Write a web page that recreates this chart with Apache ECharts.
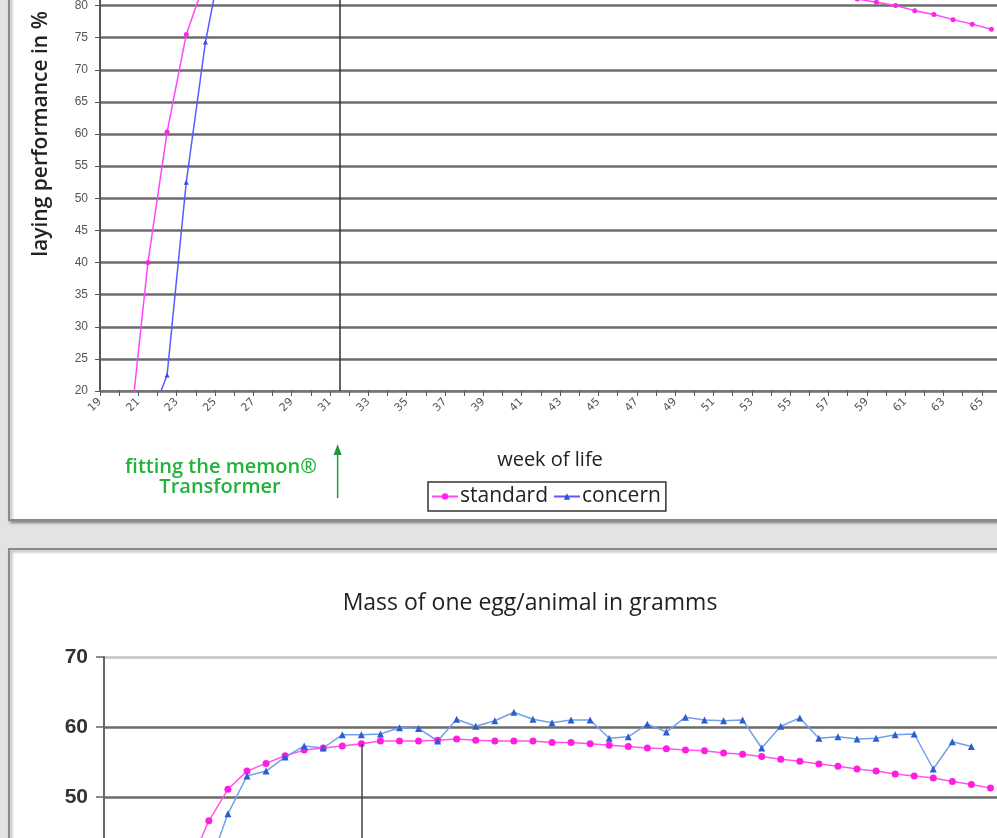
<!DOCTYPE html>
<html>
<head>
<meta charset="utf-8">
<script src="https://cdn.jsdelivr.net/npm/echarts@6/dist/echarts.min.js"></script>
<style>
  html, body { margin: 0; padding: 0; background: #e3e3e3; }
  #chart { width: 997px; height: 838px; }
</style>
</head>
<body>
<div id="chart"></div>
<script>
// week categories (top chart: laying performance)
const weeksTop = ['19','20','21','22','23','24','25','26','27','28','29','30','31','32','33','34','35','36','37','38',
  '39','40','41','42','43','44','45','46','47','48','49','50','51','52','53','54','55','56','57','58',
  '59','60','61','62','63','64','65'];
// tick labels sit on the category boundaries
const tickWeeksTop = ['19','20','21','22','23','24','25','26','27','28','29','30','31','32','33','34','35','36','37','38',
  '39','40','41','42','43','44','45','46','47','48','49','50','51','52','53','54','55','56','57','58',
  '59','60','61','62','63','64','65','66'];

const standardLaying = [3, 12, 40, 60.3, 75.5, 84, 90, 93, 94.5, 95, 94.8, 94.5, 94.2, 93.8, 93.4, 93.0, 92.6, 92.1, 91.7, 91.2,
  90.8, 90.3, 89.9, 89.4, 88.9, 88.4, 87.9, 87.4, 86.9, 86.4, 85.9, 85.4, 84.9, 84.4, 83.9, 83.3, 82.7, 82.1, 81.5, 81.0,
  80.5, 80.0, 79.2, 78.6, 77.8, 77.1, 76.3];
const concernLaying = [2, 6, 14.6, 22.5, 52.5, 74.3, 89.7, 93.5, 95, 95.5, 96, 96, 95.8, 95.5, 95.3, 95, 94.8, 94.5, 94.2, 94,
  93.8, 93.5, 93.2, 93, 92.8, 92.5, 92.2, 92, 91.8, 91.5, 91.2, 91, 90.7, 90.4, 90.1, 89.8, 89.5, 89.2, 88.9, 88.6,
  88.3, 88, 87.6, 87.2, 86.8, 86.4, null];

// week categories (bottom chart: egg mass)
const weeksBottom = ['18','19','20','21','22','23','24','25','26','27','28','29','30','31','32','33','34','35','36','37',
  '38','39','40','41','42','43','44','45','46','47','48','49','50','51','52','53','54','55','56','57',
  '58','59','60','61','62','63','64'];
const standardMass = [null, null, 30, 35.5, 40.4, 46.6, 51.1, 53.7, 54.8, 55.9, 56.7, 57.0, 57.3, 57.6, 58.0, 58.0, 58.0, 58.1, 58.3, 58.1,
  58.0, 58.0, 58.0, 57.8, 57.8, 57.6, 57.4, 57.2, 57.0, 56.9, 56.7, 56.6, 56.3, 56.1, 55.8, 55.4, 55.1, 54.7, 54.4, 54.0,
  53.7, 53.3, 53.0, 52.7, 52.2, 51.8, 51.3];
const concernMass = [null, null, null, 28, 33, 40, 47.6, 53.0, 53.7, 55.7, 57.3, 57.0, 58.9, 58.9, 59.0, 59.9, 59.8, 58.0, 61.1, 60.1,
  60.9, 62.1, 61.1, 60.6, 61.0, 61.0, 58.4, 58.6, 60.4, 59.3, 61.4, 61.0, 60.9, 61.0, 57.0, 60.1, 61.3, 58.4, 58.6, 58.3,
  58.4, 58.9, 59.0, 54.0, 57.9, 57.2, null];

const fittingWeek = '31';

const chart = echarts.init(document.getElementById('chart'));

const sans = 'Open Sans';
const fitTop = weeksTop.indexOf(fittingWeek);
const fitBottom = weeksBottom.indexOf(fittingWeek);

const option = {
  animation: false,
  backgroundColor: '#e3e3e3',
  graphic: [
    { id: 'panelTop', type: 'rect', z: -10, shape: { x: 9, y: -10, width: 1010, height: 530 },
      style: { fill: '#fff', stroke: '#8a8a8a', lineWidth: 2, shadowBlur: 3, shadowOffsetX: 2, shadowOffsetY: 2, shadowColor: 'rgba(0,0,0,0.35)' } },
    { id: 'panelBottom', type: 'rect', z: -10, shape: { x: 9, y: 549, width: 1010, height: 320 },
      style: { fill: '#fff', stroke: '#8a8a8a', lineWidth: 2, shadowBlur: 3, shadowOffsetX: 2, shadowOffsetY: 2, shadowColor: 'rgba(0,0,0,0.35)' } },
    { id: 'xName', type: 'text', z: 10, x: 550, y: 460,
      style: { text: 'week of life', font: '20px "Open Sans"', fill: '#222', align: 'center', verticalAlign: 'middle' } },
    { id: 'fit1', type: 'text', z: 10, x: 221, y: 467,
      style: { text: 'fitting the memon®', font: '600 20px "Open Sans"', fill: '#22b23a', align: 'center', verticalAlign: 'middle' } },
    { id: 'fit2', type: 'text', z: 10, x: 220, y: 487,
      style: { text: 'Transformer', font: '600 20px "Open Sans"', fill: '#22b23a', align: 'center', verticalAlign: 'middle' } },
    { id: 'massTitle', type: 'text', z: 10, x: 530, y: 603,
      style: { text: 'Mass of one egg/animal in gramms', font: '23px "Open Sans"', fill: '#222', align: 'center', verticalAlign: 'middle' } }
  ],
  legend: {
    data: ['standard', 'concern'],
    left: 428, top: 482,
    orient: 'horizontal',
    backgroundColor: '#fff',
    borderColor: '#333', borderWidth: 1.5, borderRadius: 0,
    padding: [4, 5, 4, 3],
    itemGap: 5, itemWidth: 26, itemHeight: 8,
    textStyle: { fontFamily: sans, fontSize: 21, color: '#222', padding: [0, 0, 0, -3] }
  },
  grid: [
    { left: 100, top: -123, width: 901, height: 514, outerBoundsMode: 'none', containLabel: false },
    { left: 104, top: 657, width: 896, height: 280, outerBoundsMode: 'none', containLabel: false }
  ],
  xAxis: [
    { type: 'category', gridIndex: 0, data: weeksTop, boundaryGap: true, position: 'bottom',
      axisLine: { lineStyle: { color: '#777', width: 2 } },
      axisTick: { show: true, interval: 0, length: 5, lineStyle: { color: '#555' } },
      axisLabel: { show: false }, splitLine: { show: false } },
    { type: 'category', gridIndex: 0, data: tickWeeksTop, boundaryGap: false, position: 'bottom',
      axisLine: { show: false }, axisTick: { show: false },
      axisLabel: { interval: 1, rotate: 45, margin: 9, fontSize: 11, color: '#555', fontFamily: 'DejaVu Sans' },
      splitLine: { show: false } },
    { type: 'category', gridIndex: 1, data: weeksBottom, boundaryGap: true,
      axisLine: { lineStyle: { color: '#555', width: 2 } },
      axisTick: { show: false }, axisLabel: { show: false }, splitLine: { show: false } }
  ],
  yAxis: [
    { type: 'value', gridIndex: 0, min: 20, max: 100, interval: 5,
      name: 'laying performance in %', nameLocation: 'middle', nameGap: 48,
      nameTextStyle: { fontFamily: sans, fontSize: 21, fontWeight: 600, color: '#222' },
      axisLine: { show: true, lineStyle: { color: '#555', width: 2 } },
      axisTick: { show: true, length: 5, lineStyle: { color: '#555' } },
      axisLabel: { fontSize: 12, color: '#555', margin: 12, fontFamily: 'Liberation Sans' },
      splitLine: { lineStyle: { color: '#6c6c6c', width: 2.5 } } },
    { type: 'value', gridIndex: 1, min: 30, max: 70, interval: 10,
      axisLine: { show: true, lineStyle: { color: '#666', width: 2 } },
      axisTick: { show: true, length: 8, lineStyle: { color: '#666', width: 1.5 } },
      axisLabel: { fontSize: 21, fontWeight: 'bold', color: '#333', margin: 16, fontFamily: 'Liberation Sans' },
      splitLine: { lineStyle: { color: ['#6a6a6a', '#6a6a6a', '#6a6a6a', '#6a6a6a', '#c4c4c4'], width: 2.5 } } }
  ],
  series: [
    { name: 'standard', type: 'line', xAxisIndex: 0, yAxisIndex: 0, data: standardLaying,
      clip: true, symbol: 'circle', symbolSize: 5, showAllSymbol: true,
      itemStyle: { color: '#ff22ee' }, lineStyle: { color: '#ff44ff', width: 1.5 },
      markLine: { silent: true, symbol: 'none', label: { show: false },
        lineStyle: { color: '#333', width: 1.5, type: 'solid' },
        data: [[{ coord: [fitTop, 100] }, { coord: [fitTop, 20] }]] } },
    { name: 'concern', type: 'line', xAxisIndex: 0, yAxisIndex: 0, data: concernLaying,
      clip: true, symbol: 'triangle', symbolSize: 5, showAllSymbol: true,
      itemStyle: { color: '#2f4fe8' }, lineStyle: { color: '#5a5aff', width: 1.5 } },
    { name: 'standard', type: 'line', xAxisIndex: 2, yAxisIndex: 1, data: standardMass,
      clip: true, symbol: 'circle', symbolSize: 7, showAllSymbol: true,
      itemStyle: { color: '#ff1ee0' }, lineStyle: { color: '#ff55ee', width: 1.5 },
      markLine: { silent: true, symbol: 'none', label: { show: false },
        lineStyle: { color: '#444', width: 1.5, type: 'solid' },
        data: [[{ coord: [fitBottom, standardMass[fitBottom]] }, { coord: [fitBottom, 30] }]] } },
    { name: 'concern', type: 'line', xAxisIndex: 2, yAxisIndex: 1, data: concernMass,
      clip: true, symbol: 'triangle', symbolSize: 7, showAllSymbol: true,
      itemStyle: { color: '#2b5fd0' }, lineStyle: { color: '#72a0ea', width: 1.5 } }
  ]
};

chart.setOption(option);

// green arrow pointing at the fitting week
const ax = chart.convertToPixel({ xAxisIndex: 0 }, fitTop) - 2;
chart.setOption({
  graphic: [
    { id: 'arrowLine', type: 'line', z: 10, shape: { x1: ax, y1: 498, x2: ax, y2: 452 },
      style: { stroke: '#1f9a3a', lineWidth: 1.5 } },
    { id: 'arrowHead', type: 'polygon', z: 10, shape: { points: [[ax, 444], [ax - 4, 455], [ax + 4, 455]] },
      style: { fill: '#1f9a3a' } }
  ]
});
</script>
</body>
</html>
